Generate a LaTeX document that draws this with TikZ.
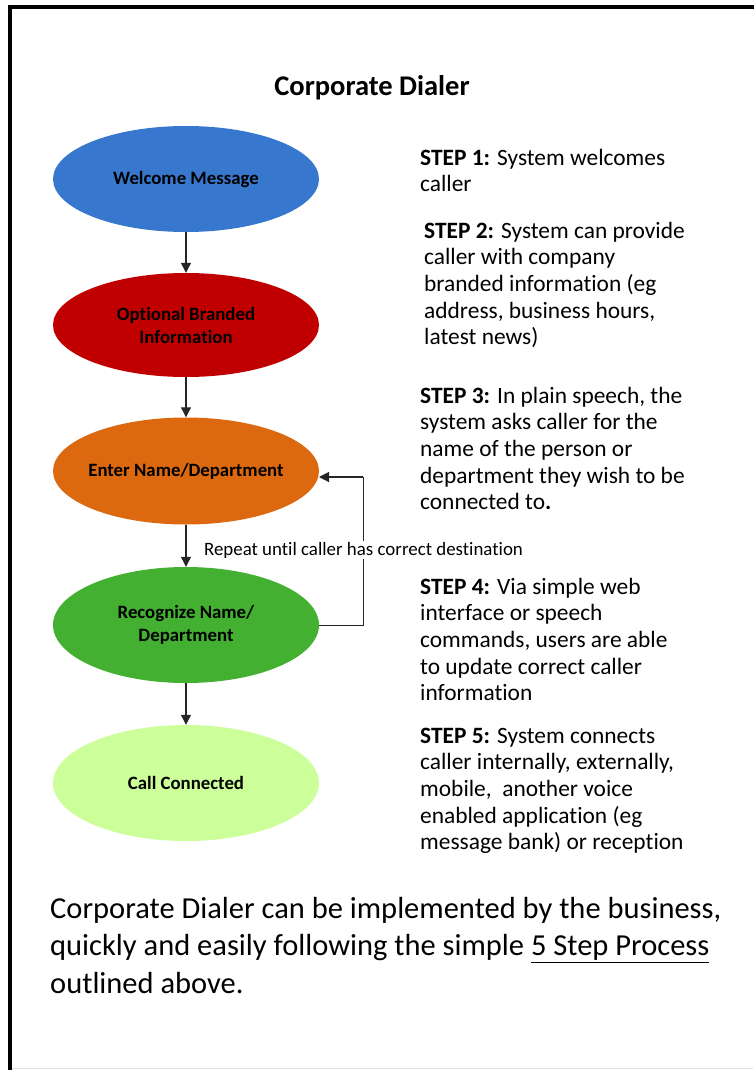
\documentclass[tikz,border=0pt]{standalone}
\usepackage{fontspec}
\setmainfont{Carlito}[RawFeature={-liga}]
\usetikzlibrary{shapes.geometric,arrows.meta}
\definecolor{cblue}{RGB}{55,120,206}
\definecolor{cred}{RGB}{192,0,0}
\definecolor{corange}{RGB}{220,105,15}
\definecolor{cgreen}{RGB}{67,176,50}
\definecolor{clight}{RGB}{204,255,153}
\newcommand\steptext[1]{\fontsize{23.4}{26.7}\selectfont\begin{tabular}[t]{@{}l@{}}#1\end{tabular}}
\newcommand\narrow[1]{\makebox[0pt][c]{#1}}
\tikzset{
  stepnode/.style={ellipse, minimum width=266pt, minimum height=106pt, inner sep=0pt, draw=none,
    align=center, font=\fontsize{18.8}{23}\selectfont\bfseries, text=black},
  flow/.style={line width=1.1pt, draw=black!85, -{Triangle[width=10pt,length=10pt]}},
  loopline/.style={line width=1pt, draw=black!85},
  desc/.style={anchor=base west, inner sep=0pt, text=black},
}
\begin{document}
\begin{tikzpicture}[x=1pt,y=-1pt]
\useasboundingbox (0,0) rectangle (753,1070);
% frame
\draw[line width=4pt, line join=miter] (10,1072) -- (10,7) -- (755,7);
\draw[line width=1pt, black!12] (12,1068.5) -- (753,1068.5);
% title
\node[anchor=base, inner sep=0pt, font=\fontsize{28.5}{30}\selectfont\bfseries] (title) at (372,96) {Corporate Dialer};
% ellipses
\node[stepnode, fill=cblue, minimum height=106pt] (welcome) at (186,179) {\narrow{Welcome Message}};
\node[stepnode, fill=cred, minimum height=104pt] (brand) at (186,325) {\narrow{Optional Branded}\\\narrow{Information}};
\node[stepnode, fill=corange, minimum height=107pt] (enter) at (186,471) {\narrow{Enter Name/Department}};
\node[stepnode, fill=cgreen, minimum height=116pt] (recog) at (186,625) {\narrow{Recognize Name/}\\\narrow{Department}};
\node[stepnode, fill=clight, minimum height=116pt] (call) at (186,783) {\narrow{Call Connected}};
% arrows
\draw[flow] (welcome.south) -- (brand.north);
\draw[flow] (brand.south) -- (enter.north);
\draw[flow] (enter.south) -- (recog.north);
\draw[flow] (recog.south) -- (call.north);
% loop
\coordinate (lp1) at (363,625);
\coordinate (lp2) at (363,477);
\coordinate (lp3) at (319,477);
\draw[loopline] (recog.east) -- (lp1) -- (lp2);
\draw[flow] (lp2) -- (lp3);
\node[fill=white, inner sep=1pt, font=\fontsize{18.9}{21}\selectfont] (repeat) at (363.5,550) {Repeat until caller has correct destination};
% step texts
\node[desc] (s1) at (420,165) {\steptext{\textbf{STEP 1:} System welcomes\\ caller}};
\node[desc] (s2) at (424,238) {\steptext{\textbf{STEP 2:} System can provide\\ caller with company\\ branded information (eg\\ address, business hours,\\ latest news)}};
\node[desc] (s3) at (420,403) {\steptext{\textbf{STEP 3:} In plain speech, the\\ system asks caller for the\\ name of the person or\\ department they wish to be\\ connected to\textbf{.}}};
\node[desc] (s4) at (420,594) {\steptext{\textbf{STEP 4:} Via simple web\\ interface or speech\\ commands, users are able\\ to update correct caller\\ information}};
\node[desc] (s5) at (420,743) {\steptext{\textbf{STEP 5:} System connects\\ caller internally, externally,\\ mobile,\ \ another voice\\ enabled application (eg\\ message bank) or reception}};
% bottom text
\node[desc] (summary) at (50,918) {\fontsize{30.5}{37.5}\selectfont\begin{tabular}[t]{@{}l@{}}Corporate Dialer can be implemented by the business,\\ quickly and easily following the simple \underline{5 Step Process}\\ outlined above.\end{tabular}};
\end{tikzpicture}
\end{document}
